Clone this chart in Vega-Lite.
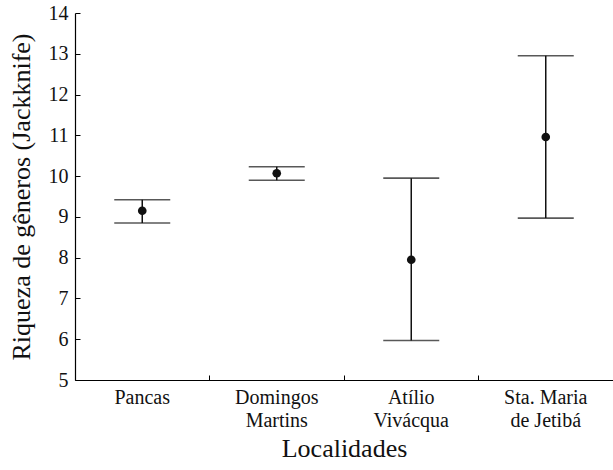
{
  "$schema": "https://vega.github.io/schema/vega-lite/v6.json",
  "width": 538,
  "height": 367,
  "autosize": {"type": "none"},
  "padding": {"left": 75, "top": 13, "right": 0, "bottom": 90},
  "background": "white",
  "config": {
    "view": {"stroke": null},
    "font": "Liberation Serif",
    "axis": {"grid": false, "domainColor": "#000", "tickColor": "#000", "labelColor": "#111", "titleColor": "#111", "labelFont": "Liberation Serif", "titleFont": "Liberation Serif", "titleFontWeight": "normal"}
  },
  "data": {
    "values": [
      {"local": "Pancas", "mean": 9.15, "lo": 8.85, "hi": 9.42},
      {"local": "Domingos|Martins", "mean": 10.07, "lo": 9.9, "hi": 10.23},
      {"local": "Atílio|Vivácqua", "mean": 7.95, "lo": 5.97, "hi": 9.95},
      {"local": "Sta. Maria|de Jetibá", "mean": 10.96, "lo": 8.97, "hi": 12.95}
    ]
  },
  "encoding": {
    "x": {
      "field": "local",
      "type": "nominal",
      "sort": null,
      "scale": {"paddingInner": 0, "paddingOuter": 0},
      "axis": {
        "title": "Localidades",
        "titleFontSize": 26,
        "titlePadding": 5,
        "labelFont": "Liberation Serif",
        "labelFontSize": 20,
        "labelAngle": 0,
        "labelExpr": "split(datum.label, '|')",
        "labelLineHeight": 23,
        "labelPadding": 12,
        "tickSize": -5,
        "bandPosition": 0,
        "domainWidth": 1.2
      }
    }
  },
  "layer": [
    {
      "mark": {"type": "rule", "color": "#111", "strokeWidth": 1.5},
      "encoding": {
        "y": {"field": "lo", "type": "quantitative", "scale": {"domain": [5, 14], "nice": false, "zero": false},
          "axis": {"title": "Riqueza de gêneros (Jackknife)", "titleFontSize": 26, "titlePadding": 14, "labelFont": "Liberation Serif", "labelFontSize": 20, "labelOverlap": false, "values": [5,6,7,8,9,10,11,12,13,14], "tickSize": -5, "labelPadding": 12, "domainWidth": 1.2}},
        "y2": {"field": "hi"}
      }
    },
    {
      "mark": {"type": "tick", "color": "#111", "orient": "horizontal", "size": 56, "thickness": 1.6},
      "encoding": {"y": {"field": "lo", "type": "quantitative"}}
    },
    {
      "mark": {"type": "tick", "color": "#111", "orient": "horizontal", "size": 56, "thickness": 1.6},
      "encoding": {"y": {"field": "hi", "type": "quantitative"}}
    },
    {
      "mark": {"type": "point", "filled": true, "color": "#111", "opacity": 1, "size": 75},
      "encoding": {"y": {"field": "mean", "type": "quantitative"}}
    }
  ]
}
